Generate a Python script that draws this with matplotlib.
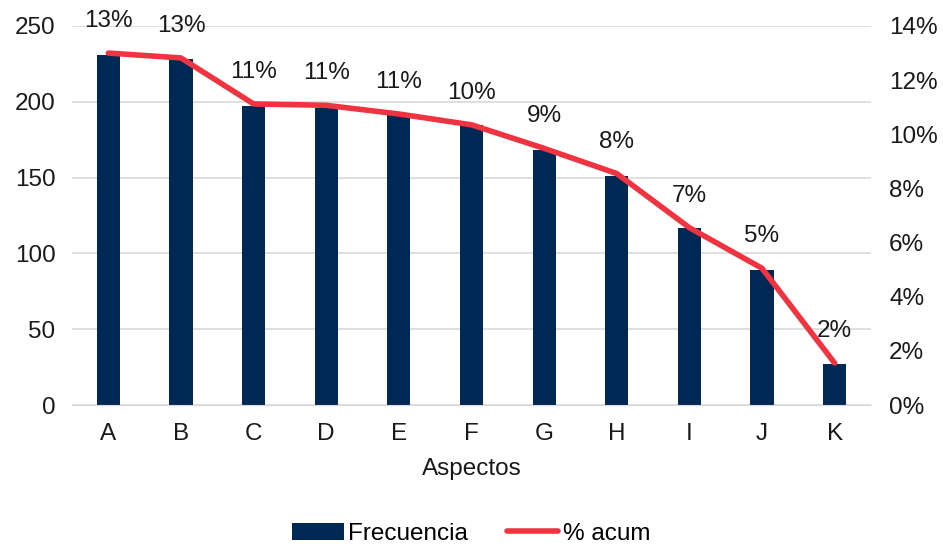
import matplotlib.pyplot as plt
from matplotlib.ticker import FuncFormatter

plt.rcParams['font.family'] = ['Liberation Sans', 'DejaVu Sans']

# datos
aspectos = ['A', 'B', 'C', 'D', 'E', 'F', 'G', 'H', 'I', 'J', 'K']
frecuencia = [231, 228, 197, 196, 191, 185, 168, 151, 117, 89, 27]
pct = [13.0, 12.82, 11.12, 11.07, 10.75, 10.35, 9.48, 8.55, 6.55, 5.05, 1.55]
etiquetas = ['13%', '13%', '11%', '11%', '11%', '10%', '9%', '8%', '7%', '5%', '2%']

navy = '#002855'
red = '#EF3340'
fs = 17.5

fig = plt.figure(figsize=(9.43, 5.46), dpi=100)
ax = fig.add_axes([0.0764, 0.2582, 0.8472, 0.6942])
ax2 = ax.twinx()

x = range(len(aspectos))
bars = ax.bar(x, frecuencia, width=0.32, color=navy, label='Frecuencia', zorder=2)
line, = ax2.plot(x, pct, color=red, lw=4, label='% acum', solid_capstyle='round',
                 solid_joinstyle='round', zorder=3)

for xi, yi, t in zip(x, pct, etiquetas):
    ax2.annotate(t, (xi, yi), xytext=(0, 23), textcoords='offset points',
                 ha='center', va='center', fontsize=fs, color='#1a1a1a')

ax.set_xlim(-0.5, len(aspectos) - 0.5)
ax.set_ylim(0, 250)
ax.set_yticks(range(0, 251, 50))
ax2.set_ylim(0, 14)
ax2.set_yticks(range(0, 15, 2))
ax2.yaxis.set_major_formatter(FuncFormatter(lambda v, p: f'{int(v)}%'))

ax.set_xticks(list(x))
ax.set_xticklabels(aspectos)
ax.set_xlabel('Aspectos', fontsize=fs, color='#1a1a1a', labelpad=9)

ax.grid(axis='y', color='#d9d9d9', lw=1.2, zorder=0)
ax.set_axisbelow(True)
for a in (ax, ax2):
    for s in a.spines.values():
        s.set_visible(False)
    a.tick_params(length=0, labelsize=fs, colors='#1a1a1a')
ax.spines['bottom'].set_visible(True)
ax.spines['bottom'].set_color('#d9d9d9')
ax.tick_params(axis='x', pad=13)
ax.tick_params(axis='y', pad=12)
ax2.tick_params(axis='y', pad=13)

fig.legend(handles=[bars, line], labels=['Frecuencia', '% acum'], loc='center',
           bbox_to_anchor=(0.5, 0.022), ncol=2, frameon=False, fontsize=fs,
           handlelength=2.1, handletextpad=0.2, columnspacing=1.6,
           borderpad=0.2)

fig.savefig('out.png', dpi=100)
